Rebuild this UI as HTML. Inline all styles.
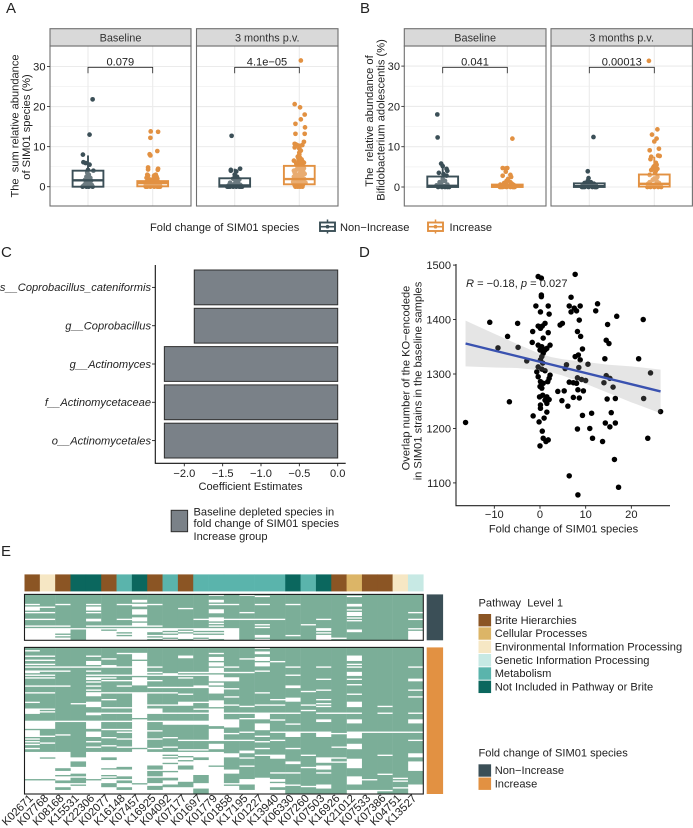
<!DOCTYPE html>
<html lang="en">
<head>
<meta charset="utf-8">
<title>SIM01 species figure</title>
<style>
html,body{margin:0;padding:0;background:#fff;}
svg{display:block;font-family:"Liberation Sans",sans-serif;fill:#222;filter:blur(0.3px);}
</style>
</head>
<body>
<svg id="fig" xmlns="http://www.w3.org/2000/svg" width="693" height="828" viewBox="0 0 693 828">
  <rect width="693" height="828" fill="#fff"/>
  <g id="layerA"></g>
  <g id="layerB"></g>
  <g id="layerC"></g>
  <g id="layerD"></g>
  <g id="layerE"></g>

  <g font-size="15" fill="#222">
    <text x="6" y="13">A</text>
    <text x="360" y="13">B</text>
    <text x="1" y="257">C</text>
    <text x="359" y="257">D</text>
    <text x="1" y="556">E</text>
  </g>

  <g font-size="11.1" fill="#222">
    <text transform="translate(18.5,126) rotate(-90)" text-anchor="middle">The&#160; sum relative abundance</text>
    <text transform="translate(30,127) rotate(-90)" text-anchor="middle">of SIM01 species (%)</text>
    <text transform="translate(373,121) rotate(-90)" text-anchor="middle">The&#160; relative abundance of</text>
    <text transform="translate(384.5,120) rotate(-90)" text-anchor="middle">Bifidobacterium adolescentis (%)</text>

    <text x="150" y="231">Fold change of SIM01 species</text>
    <text x="340" y="231">Non−Increase</text>
    <text x="449.5" y="231">Increase</text>

    <text x="250.5" y="490" text-anchor="middle">Coefficient Estimates</text>
    <text x="193.5" y="515.5">Baseline depleted species in</text>
    <text x="193.5" y="527">fold change of SIM01 species</text>
    <text x="193.5" y="540">Increase group</text>

    <text x="563.5" y="532.5" text-anchor="middle">Fold change of SIM01 species</text>
    <text transform="translate(409.5,378) rotate(-90)" text-anchor="middle">Overlap number of the KO−encodede</text>
    <text transform="translate(421.5,381) rotate(-90)" text-anchor="middle">in SIM01 strains in the baseline samples</text>
    <text x="466" y="287" font-style="italic">R<tspan font-style="normal"> = −0.18, </tspan>p<tspan font-style="normal"> = 0.027</tspan></text>

    <text x="478.5" y="606.5">Pathway&#160; Level 1</text>
    <text x="478.5" y="756.5">Fold change of SIM01 species</text>
  </g>
</svg>

<script>
// ---------- Panel A / B box groups: values, horizontal jitter (fraction of half box), box stats [low, q1, median, q3, high]
const aBaseNonValues = [21.8,13,8,6.1,5.9,5.5,4.2,4,3.5,3,2.5,2.2,2,1.7,1.5,1.2,1,0.8,0.6,0.4,0.2,0.1,0,0,0,0];
const aBaseNonJitter = [0.3,0.1,-0.33,-0.3,-0.15,0.1,0,0.35,-0.05,0.05,-0.1,0.15,0,-0.2,0.2,0,-0.1,0.1,-0.2,0.25,-0.3,0,-0.35,0.3,0.05,-0.1];
const aBaseNonBox = [0,0,1.6,4,7.8];
const aBaseIncValues = [13.8,13.7,12.2,8.1,7.8,8.9,4.8,4.5,4.3,4.2,3,3,2.8,2.8,2.5,2.5,2.2,2,2,1.8,1.5,1.5,1.2,1.2,1,1,0.8,0.8,0.5,0.5,0.5,0.3,0.3,0.3,0.2,0.2,0.1,0.1,0,0,0,0,0,0,0];
const aBaseIncJitter = [-0.13,0.35,-0.15,-0.2,-0.15,0.3,-0.3,0.35,-0.3,0.33,-0.35,0.2,-0.3,0.1,0.25,-0.35,-0.4,0.3,0.05,-0.2,0.15,-0.25,0.35,-0.4,-0.1,0.1,0.4,-0.45,0.45,-0.1,-0.3,0.2,0.42,-0.45,0.48,-0.2,0.3,-0.4,-0.45,-0.35,-0.15,0.1,0.3,0.4,0.48];
const aBaseIncBox = [0,0.1,0.9,1.4,3];
const aPostNonValues = [12.7,4.5,4.2,4,3.8,3,2.5,2,1.8,1.5,1,1,0.7,0.5,0.5,0.3,0.2,0.1,0.1,0,0,0,0,0,0,0,0];
const aPostNonJitter = [-0.2,0.35,-0.25,-0.25,0.1,0,0.15,-0.1,0.3,0.05,-0.3,0.2,0,-0.15,0.35,-0.4,0.42,-0.45,0.15,-0.48,-0.4,-0.3,-0.1,0.1,0.3,0.4,0.48];
const aPostNonBox = [0,0,0.3,2.1,4.5];
const aPostIncValues = [31.5,20.6,19.8,18,16.8,15.7,14.8,13.2,13.2,11.2,10.7,10.5,10.3,10.2,10.4,9.8,9.5,9,8.5,8,7.5,7.2,7,6.8,6.5,6.5,6.3,6.2,6,5.8,5.5,5.3,5,5,4.6,4.5,4.2,4,4,3.8,3.5,3.5,3.2,3,3,2.8,2.5,2.5,2.2,2,2,1.8,1.5,1.5,1.2,1,1,0.8,0.6,0.4,0.2,0.1,0,0,0,0];
const aPostIncJitter = [0.1,-0.3,0.05,0.35,0.1,-0.25,0.37,-0.25,0.35,0.3,-0.3,-0.2,-0.1,0.05,0.2,-0.3,0,0.1,0,0,-0.1,0.05,-0.05,0.15,-0.35,-0.05,0.2,0.05,0.3,-0.2,0.15,-0.15,-0.1,0.25,0.3,0,-0.2,0.1,-0.35,0.25,-0.3,0.05,0.35,-0.1,0.2,-0.25,-0.35,0.1,0.05,0.3,-0.15,-0.25,0.15,-0.05,-0.4,0.4,0,-0.15,0.25,-0.3,0.1,-0.2,-0.25,-0.1,0.05,0.2];
const aPostIncBox = [0,0.6,1.9,5.2,10];

const bBaseNonValues = [18,12.3,5.8,5.2,4.5,4,3.5,3.2,2.8,2,1.5,1.2,1,0.6,0.4,0.2,0.1,0,0,0,0,0];
const bBaseNonJitter = [-0.35,-0.33,-0.1,0,0.25,0.3,-0.25,0.05,0.25,0,0.15,-0.2,-0.1,0.3,-0.4,0.1,-0.25,-0.3,-0.05,0.15,0.3,0.42];
const bBaseNonBox = [0,0,0.3,2.6,5.8];
const bBaseIncValues = [12,4.7,4.6,4.7,3.8,3,2.8,2.5,2,1.5,1.2,1,0.8,0.6,0.5,0.4,0.3,0.2,0.1,0.1,0,0,0,0,0,0,0,0];
const bBaseIncJitter = [0.33,-0.3,-0.1,0,-0.1,0.2,-0.3,0.25,0.05,-0.05,0.2,-0.2,0.3,-0.45,0.42,-0.35,0.45,-0.48,0.15,-0.15,-0.48,-0.4,-0.3,-0.05,0.2,0.35,0.42,0.48];
const bBaseIncBox = [0,0,0.1,0.6,1.2];
const bPostNonValues = [12.4,3.9,2.2,1.5,1.2,1,0.8,0.6,0.5,0.4,0.3,0.2,0.1,0,0,0,0,0,0,0,0];
const bPostNonJitter = [0.27,-0.1,-0.05,-0.1,0.1,-0.3,0.3,-0.42,0,0.42,-0.2,0.2,-0.45,-0.48,-0.4,-0.3,-0.05,0.2,0.35,0.42,0.48];
const bPostNonBox = [0,0,0.2,0.9,1.5];
const bPostIncValues = [31.3,14.3,13,12,11.3,9.5,9.1,7.8,7.7,7.5,6.9,6,5.5,5.2,5,4.6,4.5,4.2,4,3.5,3,2.5,2.1,1.8,1.5,1.2,1,0.8,0.6,0.4,0.2,0.1,0,0,0,0,0];
const bPostIncJitter = [-0.35,0.2,-0.15,0.15,0,0.3,-0.3,0.25,0.35,-0.2,-0.25,0.1,0.15,0,-0.05,-0.1,0.2,-0.2,0.1,0.05,-0.3,0.2,0,-0.1,0.15,-0.3,0.3,-0.4,0.1,0.4,-0.2,0.25,-0.45,-0.25,0,0.25,0.45];
const bPostIncBox = [0,0.1,0.8,3.1,7.5];

const aPValues = ["0.079","4.1e−05"];
const bPValues = ["0.041","0.00013"];
const facetNames = ["Baseline","3 months p.v."];
const abYTicks = [0,10,20,30];
const abYMinor = [5,15,25];

// ---------- Panel C
const cCategories = ["s__Coprobacillus_cateniformis","g__Coprobacillus","g__Actinomyces","f__Actinomycetaceae","o__Actinomycetales"];
const cCoefficients = [-1.87,-1.87,-2.26,-2.26,-2.26];
const cXTicks = [-2,-1.5,-1,-0.5,0];
const cXTickLabels = ["−2.0","−1.5","−1.0","−0.5","0.0"];

// ---------- Panel D
const dFoldChange = [-16.3,-11,-9.2,-7.1,-6.7,-4.9,-4.8,-2.9,-1.7,-1.6,-1.5,-0.9,-0.2,-0.4,0.3,0.3,0.3,0.1,1.8,2,1.1,0.5,-0.4,0.1,1.8,0.7,-0.4,0.4,1.1,2.2,1.5,0,0.7,0.4,0.1,0.6,-0.4,0.4,-0.7,1.1,-0.4,2.2,2,1.7,0.1,0.7,0,0.4,0.6,-0.1,1.5,2,1.1,1.5,0.1,0.1,1.5,0.9,0.5,0.7,1.8,1.3,0,3.9,4.9,4.4,5.3,4.8,6.1,5.8,5.5,7.3,8.6,6.4,7.3,8,7.7,6.8,6.4,6.8,7.5,8,8.8,8.6,8.2,8.9,9.3,8.4,7.7,8.8,8.5,8.2,9.1,10,8.3,9.5,9.3,8.2,6.4,8.3,10.5,11.3,10.9,11.5,12.2,12.6,13.7,14.2,14.5,15.1,14.8,16.8,14,14.5,15.3,16,14.7,16.5,15.6,14.3,15.3,16.5,16.3,17.2,21.6,22.6,22.7,23.6,24.2,26.4];
const dOverlap = [1211,1395,1348,1369,1249,1393,1349,1324,1358,1378,1223,1425,1212,1479,1476,1442,1445,1414,1425,1410,1393,1388,1388,1384,1376,1366,1353,1350,1344,1353,1347,1344,1338,1332,1326,1320,1313,1309,1304,1306,1295,1298,1292,1286,1286,1283,1277,1274,1261,1258,1258,1253,1252,1246,1243,1237,1230,1219,1195,1182,1179,1176,1168,1268,1393,1390,1269,1251,1241,1317,1310,1257,1256,1285,1284,1283,1483,1441,1425,1414,1421,1416,1425,1399,1378,1369,1346,1335,1332,1326,1312,1293,1290,1288,1271,1269,1224,1199,1113,1078,1318,1228,1200,1182,1416,1429,1176,1328,1362,1356,1391,1406,1284,1297,1292,1276,1254,1255,1229,1210,1203,1210,1143,1092,1328,1400,1255,1182,1302,1231];
const dFitX = [-16.3,26.4];
const dFitY = [1356,1268];
const dCiX = [-16.3,-10,-5,0,2.5,5,10,15,20,26.4];
const dCiHigh = [1398,1374,1355,1337,1331,1327,1322,1317,1314,1308];
const dCiLow = [1314,1312,1311,1307,1303,1297,1282,1265,1248,1228];
const dXTicks = [-10,0,10,20];
const dXTickLabels = ["−10","0","10","20"];
const dYTicks = [1100,1200,1300,1400,1500];

// ---------- Panel E: heatmap (absent rows per KO column; every other cell is present)
const koLabels = ["K02671","K07768","K08168","K15531","K22306","K02077","K16148","K07457","K16925","K04092","K07177","K01697","K01779","K01858","K17195","K01227","K13940","K06330","K07260","K07503","K16926","K21012","K07533","K07386","K04751","K13527"];
const koPathway = [0,2,0,5,5,0,4,5,0,4,0,4,4,4,4,4,4,5,4,5,0,1,0,0,2,3];
const pathwayNames = ["Brite Hierarchies","Cellular Processes","Environmental Information Processing","Genetic Information Processing","Metabolism","Not Included in Pathway or Brite"];
const pathwayColors = ["#8B5524","#DCB567","#F6E7C4","#C7E9E4","#5AB4AC","#0B675E"];
const foldNames = ["Non−Increase","Increase"];
const foldColors = ["#3B4F57","#E29142"];
const absentNonIncrease = [
 "7 9-11 13 18 23 25-33","9 13 18 23 25-33","7 23 25-28 30 32-33","25","7 9-11 13 18 19 23 25-33","23 25 27-33",
 "7 18 23 25-27 29 31-33","4-5 7-8 11-14 17-19 21-22 23 25-33","7 23 25-27 30 32","25-26 28 30-31 33","10 25 27 29-32","18 25-26 28 30-31 33",
 "0 4-5 7 11-13 17-19 21 23 25-26 28 30-32","7 18 25-33","0 13 18","1 7 18 22 24 30-31 33","18","7 30","22","18 25-26 28 30-33",
 "32","1 7-8 11 13-15 17 19 26-27","","","","13 18 25 27-33"];
const absentIncrease = [
 "2 6 9 12 14 17-18 20 22 28 33 40 45-48 54-59 61-65 67 69 71 74 77-96 98-107",
 "6 9 12 14 17 20 22 28 33 45 47 54-59 65 70 77-80 82-96 98-107",
 "14 17 28 54 64 77-88 91-93 95-97 100-102 105-107",
 "14 41 54 81-83 88-92 95 100 102-107",
 "6 10-12 14 17 20 22-23 25 28 31 33-35 40-43 48-49 54-59 62-65 69 73 77-96 98-107",
 "8 13-14 20 22 24 33 38 44 48 54 60 66 72 77-80 83-88 90-93 95 97-99 103-107",
 "4 14 20 24 28 33 44 48 54 60 62 67 73 77-87 90-94 97 100-102 105-107",
 "4-8 10-20 22-27 33-51 53-73 75-99 101-107",
 "14 18 20 24 29 33 42 45-48 54 61 67 74 77-86 90 95 100-101 105-107",
 "19-20 29 33 42 48 54-56 66 73 77-78 80 82-84 86-90 92-95 98-100 103-107",
 "6-7 18 20 22 29 34 40-42 48 54-56 68 75 77-79 81-82 84-86 90-93 94-98 103-107",
 "18 20 28-29 40 45 48 54-56 68 75 77-80 83-93 100-103",
 "4 7-9 11-13 15-18 20-24 26-27 29-33 39-43 45-57 60-68 71-74 77-86 88-107",
 "14 18 22-24 30 36 42 48 53-58 63 68 78-80 90-92 100 102-107",
 "8 18 43 48 52 62 68 76-77 81 87 97-100 105-107",
 "0 3-4 7-9 11-13 17 33 42 48-52 56-60 65 69 74 79 96-107",
 "10 38 42 48 53 62 68 79-81 92 97-98 100-102 105-107",
 "14 20 28-29 37-39 48 56 62-65 74 84-85 92 101",
 "32 42 46 62 79 88 102",
 "14 23 31 38 41 43 48 53-54 62-65 81-84 87-89 92 101-103",
 "48 63 73 81 84",
 "6-9 12 14 18-20 23 27 34 40-43 48 53-55 62-66 71-74 82-88 95-100 105-107",
 "62 97 105-107",
 "43 48 62 79 93 105",
 "62 96 98 103",
 "14 23-24 31 36 48 53-55 62 68 78-80 84-90 101-107"];

const SVGNS = "http://www.w3.org/2000/svg";
const FS = 11.1;
function mk(tag, attrs, parent, text) {
  const n = document.createElementNS(SVGNS, tag);
  for (const k in attrs) n.setAttribute(k, attrs[k]);
  if (text !== undefined) n.textContent = text;
  parent.appendChild(n);
  return n;
}
const TXT = "#222", TICK = "#333";

// ---------- Box panels
function boxPanel(layer, prefix, facets, centers, yScale, tickRight, groups, pvalues) {
  const HALF = 15.4;
  facets.forEach((f, fi) => {
    const bg = mk('rect', {x:f[0],y:46,width:f[1]-f[0],height:160,fill:'#fff'}, layer);
    
    
    abYMinor.forEach(t => {
      const g = mk('line', {x1:f[0],x2:f[1],y1:yScale(t),y2:yScale(t),stroke:'#f0f0f0','stroke-width':0.7}, layer);
      
      
    });
    abYTicks.forEach(t => {
      const g = mk('line', {x1:f[0],x2:f[1],y1:yScale(t),y2:yScale(t),stroke:'#ebebeb','stroke-width':1.1}, layer);
      
      
    });
    centers[fi].forEach(c => {
      const g = mk('line', {x1:c,x2:c,y1:46,y2:206,stroke:'#ebebeb','stroke-width':1.1}, layer);
      
      
    });
    groups[fi].forEach((grp, gi) => {
      const c = centers[fi][gi], col = foldColors[gi];
      grp.values.forEach((v, i) => {
        const p = mk('circle', {cx:c + grp.jitter[i]*HALF, cy:yScale(v), r:2.35, fill:col}, layer);
        
        
      });
      const s = grp.box;
      const w = mk('line', {x1:c,x2:c,y1:yScale(s[3]),y2:yScale(s[4]),stroke:col,'stroke-width':1.9}, layer);
      
      
      const w2 = mk('line', {x1:c,x2:c,y1:yScale(s[1]),y2:yScale(s[0]),stroke:col,'stroke-width':1.9}, layer);
      
      
      const r = mk('rect', {x:c-HALF,y:yScale(s[3]),width:2*HALF,height:Math.max(0.1,yScale(s[1])-yScale(s[3])),fill:'#fff','fill-opacity':0.25,stroke:col,'stroke-width':1.9}, layer);
      
      
      const m = mk('line', {x1:c-HALF,x2:c+HALF,y1:yScale(s[2]),y2:yScale(s[2]),stroke:col,'stroke-width':2.4}, layer);
      
      
    });
    const br = mk('path', {d:'M'+centers[fi][0]+' 73.3V67.3H'+centers[fi][1]+'V73.3',fill:'none',stroke:'#222','stroke-width':0.8}, layer);
    
    
    const pv = mk('text', {x:(centers[fi][0]+centers[fi][1])/2,y:65.7,'text-anchor':'middle','font-size':FS,fill:TXT}, layer, pvalues[fi]);
    
    
    const bd = mk('rect', {x:f[0],y:46,width:f[1]-f[0],height:160,fill:'none',stroke:'#6f6f6f','stroke-width':1.1}, layer);
    
    
    const st = mk('rect', {x:f[0],y:28.7,width:f[1]-f[0],height:17.3,fill:'#d9d9d9',stroke:'#6f6f6f','stroke-width':1.1}, layer);
    
    
    const sl = mk('text', {x:(f[0]+f[1])/2,y:41.7,'text-anchor':'middle','font-size':10.9,fill:'#333'}, layer, facetNames[fi]);
    
    
  });
  abYTicks.forEach(t => {
    const l = mk('line', {x1:facets[0][0]-3,x2:facets[0][0],y1:yScale(t),y2:yScale(t),stroke:TICK,'stroke-width':0.9}, layer);
    
    
    const tx = mk('text', {x:tickRight,y:yScale(t)+4,'text-anchor':'end','font-size':FS,fill:TXT}, layer, String(t));
    
    
  });
}
boxPanel(document.getElementById('layerA'), 'panel-a', [[50,191],[196.5,338]], [[88,152.7],[234.7,299.3]], v => 186.7 - 4.007*v, 45.5, [
  [{values:aBaseNonValues,jitter:aBaseNonJitter,box:aBaseNonBox},{values:aBaseIncValues,jitter:aBaseIncJitter,box:aBaseIncBox}],
  [{values:aPostNonValues,jitter:aPostNonJitter,box:aPostNonBox},{values:aPostIncValues,jitter:aPostIncJitter,box:aPostIncBox}]
], aPValues);
boxPanel(document.getElementById('layerB'), 'panel-b', [[404.3,546],[551,692.4]], [[442.7,507.3],[589.3,654.3]], v => 187 - 4.03*v, 400, [
  [{values:bBaseNonValues,jitter:bBaseNonJitter,box:bBaseNonBox},{values:bBaseIncValues,jitter:bBaseIncJitter,box:bBaseIncBox}],
  [{values:bPostNonValues,jitter:bPostNonJitter,box:bPostNonBox},{values:bPostIncValues,jitter:bPostIncJitter,box:bPostIncBox}]
], bPValues);

// Box legend keys
(function(){
  const layer = document.getElementById('layerA');
  [[327.5,0],[435.5,1]].forEach(k => {
    const col = foldColors[k[1]];
    const wh = mk('line', {x1:k[0],x2:k[0],y1:219.5,y2:233.5,stroke:col,'stroke-width':1.5}, layer);
    
    
    const r = mk('rect', {x:k[0]-7.5,y:222.5,width:15,height:8.5,fill:'#fff',stroke:col,'stroke-width':1.9}, layer);
    
    
    const m = mk('line', {x1:k[0]-7.5,x2:k[0]+7.5,y1:226.7,y2:226.7,stroke:col,'stroke-width':1.6}, layer);
    
    
    const p = mk('circle', {cx:k[0],cy:226.7,r:1.8,fill:col}, layer);
    
    
  });
})();

// ---------- Panel C
(function(){
  const layer = document.getElementById('layerC');
  const xC = v => 337.7 + 76.7*v;
  const yC = i => 287.4 + 38.3*i;
  cCategories.forEach((name, i) => {
    const b = mk('rect', {x:xC(cCoefficients[i]),y:yC(i)-17.4,width:xC(0)-xC(cCoefficients[i]),height:34.8,fill:'#7A8188',stroke:'#2f2f2f','stroke-width':1}, layer);
    
    
    const t = mk('line', {x1:152,x2:155.3,y1:yC(i),y2:yC(i),stroke:'#222','stroke-width':0.9}, layer);
    
    
    const lb = mk('text', {x:151,y:yC(i)+3.8,'text-anchor':'end','font-size':FS,'font-style':'italic',fill:TXT}, layer, name);
    
    
  });
  const ax = mk('path', {d:'M155.3 265V463.3H345.7',fill:'none',stroke:'#111','stroke-width':1.1}, layer);
  
  
  cXTicks.forEach((v, i) => {
    const t = mk('line', {x1:xC(v),x2:xC(v),y1:463.3,y2:466.3,stroke:'#222','stroke-width':0.9}, layer);
    
    
    const lb = mk('text', {x:xC(v),y:477,'text-anchor':'middle','font-size':FS,fill:TXT}, layer, cXTickLabels[i]);
    
    
  });
  const key = mk('rect', {x:171.2,y:510.3,width:16.4,height:21.4,fill:'#7A8188',stroke:'#2f2f2f','stroke-width':1}, layer);
  
  
})();

// ---------- Panel D
(function(){
  const layer = document.getElementById('layerD');
  const xD = v => 540 + 4.567*v;
  const yD = v => 374 - 0.5445*(v-1300);
  dFoldChange.forEach((x, i) => {
    const p = mk('circle', {cx:xD(x),cy:yD(dOverlap[i]),r:2.75,fill:'#000'}, layer);
    
    
  });
  const up = dCiX.map((x,i) => xD(x)+','+yD(dCiHigh[i]));
  const lo = dCiX.map((x,i) => xD(x)+','+yD(dCiLow[i])).reverse();
  const rb = mk('polygon', {points:up.concat(lo).join(' '),fill:'#999','fill-opacity':0.25}, layer);
  
  
  const fit = mk('line', {x1:xD(dFitX[0]),y1:yD(dFitY[0]),x2:xD(dFitX[1]),y2:yD(dFitY[1]),stroke:'#3A52B0','stroke-width':2.4}, layer);
  
  
  const ax = mk('path', {d:'M456 264V505.7H670',fill:'none',stroke:'#222','stroke-width':1.1}, layer);
  
  
  dXTicks.forEach((v,i) => {
    const t = mk('line', {x1:xD(v),x2:xD(v),y1:505.7,y2:508.7,stroke:'#222','stroke-width':0.9}, layer);
    
    
    const lb = mk('text', {x:xD(v),y:518,'text-anchor':'middle','font-size':FS,fill:TXT}, layer, dXTickLabels[i]);
    
    
  });
  dYTicks.forEach(v => {
    const t = mk('line', {x1:453,x2:456,y1:yD(v),y2:yD(v),stroke:'#222','stroke-width':0.9}, layer);
    
    
    const lb = mk('text', {x:451,y:yD(v)+4,'text-anchor':'end','font-size':FS,fill:TXT}, layer, String(v));
    
    
  });
})();

// ---------- Panel E
function parseRows(s) {
  const set = new Set();
  s.split(' ').filter(Boolean).forEach(tok => {
    const p = tok.split('-').map(Number);
    for (let r = p[0]; r <= (p.length > 1 ? p[1] : p[0]); r++) set.add(r);
  });
  return set;
}
(function(){
  const layer = document.getElementById('layerE');
  const X0 = 24.5, X1 = 423.3, CW = (X1 - X0) / koLabels.length;
  const colX = i => X0 + CW*i;
  const GREEN = '#7BAE98';
  koPathway.forEach((p, i) => {
    const r = mk('rect', {x:colX(i),y:574.4,width:CW+0.3,height:17,fill:pathwayColors[p]}, layer);
    
    
  });
  function heat(absent, top, bottom, nRows, name) {
    const rh = (bottom - top)/nRows;
    absent.forEach((spec, c) => {
      const set = parseRows(spec);
      let start = null;
      for (let r = 0; r <= nRows; r++) {
        const present = r < nRows && !set.has(r);
        if (present && start === null) start = r;
        if (!present && start !== null) {
          const cell = mk('rect', {x:colX(c),y:top+start*rh,width:CW+0.2,height:(r-start)*rh,fill:GREEN}, layer);
          
          
          start = null;
        }
      }
    });
    const bd = mk('rect', {x:X0,y:top,width:X1-X0,height:bottom-top,fill:'none',stroke:'#1c1c1c','stroke-width':1.1}, layer);
    
    
  }
  heat(absentNonIncrease, 594.4, 640.3, 34, 'heatmap-non-increase');
  heat(absentIncrease, 647.4, 794, 108, 'heatmap-increase');
  const s1 = mk('rect', {x:426.7,y:594.4,width:16.4,height:45.9,fill:foldColors[0]}, layer);
  
  
  const s2 = mk('rect', {x:426.7,y:647.4,width:16.4,height:146.6,fill:foldColors[1]}, layer);
  
  
  koLabels.forEach((ko, i) => {
    const cx = colX(i) + CW/2 + 1.5;
    const t = mk('text', {transform:'translate('+cx+',799) rotate(-45)','text-anchor':'end','font-size':11.2,fill:TXT}, layer, ko);
    
    
  });
  pathwayNames.forEach((n, i) => {
    const y = 614 + 13.33*i;
    const k = mk('rect', {x:478.5,y:y,width:12.6,height:12.4,fill:pathwayColors[i]}, layer);
    
    
    const t = mk('text', {x:494.7,y:y+9.9,'font-size':FS,fill:TXT}, layer, n);
    
    
  });
  foldNames.forEach((n, i) => {
    const y = 764.3 + 13.2*i;
    const k = mk('rect', {x:478.5,y:y,width:12.6,height:12.4,fill:foldColors[i]}, layer);
    
    
    const t = mk('text', {x:494.7,y:y+9.9,'font-size':FS,fill:TXT}, layer, n);
    
    
  });
})();
</script>
</body>
</html>
